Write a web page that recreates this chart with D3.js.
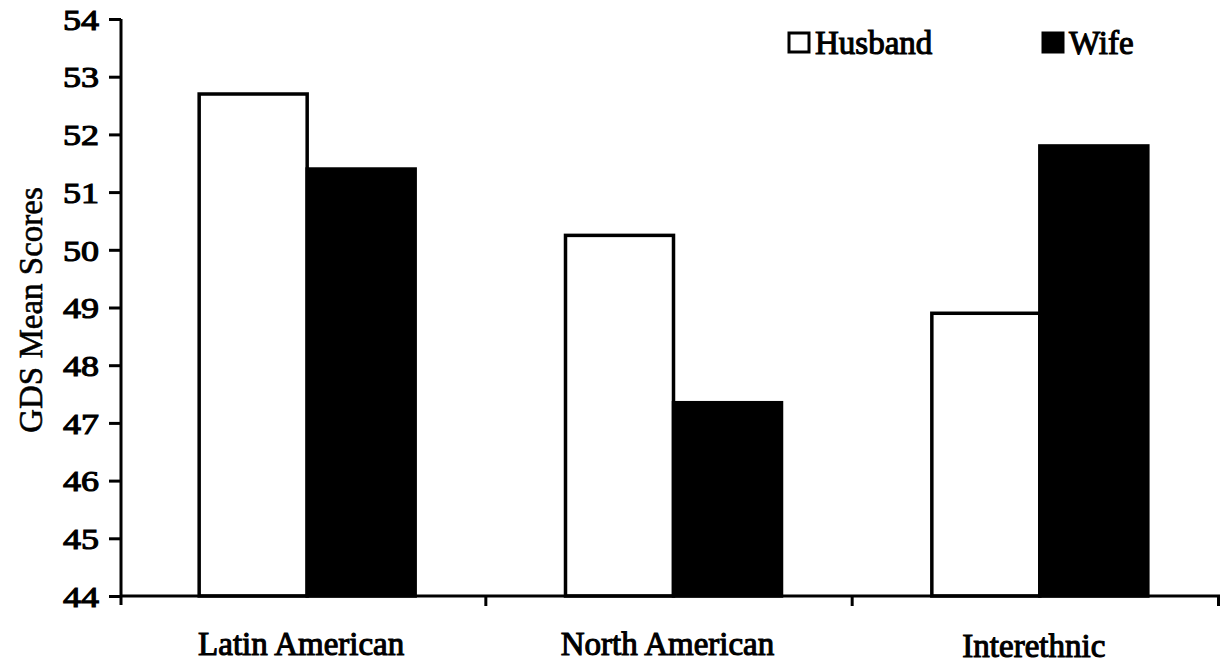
<!DOCTYPE html>
<html><head><meta charset="utf-8">
<script src="https://cdn.jsdelivr.net/npm/d3@7/dist/d3.min.js"></script>
<style>body{margin:0;background:#fff}svg{display:block}</style>
</head><body>
<svg id="c" width="1222" height="667"></svg>
<script>
const categories = ["Latin American", "North American", "Interethnic"];
const seriesNames = ["Husband", "Wife"];
const husband = [52.7, 50.25, 48.9];
const wife = [51.4, 47.35, 51.8];
const yTicks = [44,45,46,47,48,49,50,51,52,53,54];

const svg = d3.select("#c");
const font = "'Liberation Serif','Times New Roman',Times,serif";
// faux-bold: regular serif face with a thin stroke
function bold(sel, w) {
  return sel.attr("font-family", font).attr("font-weight", "normal")
    .attr("fill", "#000").attr("stroke", "#000").attr("stroke-width", w || 1.1)
    .attr("paint-order", "stroke");
}
const x0 = 121, x1 = 1220, yTop = 19, yBot = 596;
const x = d3.scaleBand().domain(categories).range([x0, x1]);
const sub = d3.scaleBand().domain(seriesNames).range([0, 216]);
const y = d3.scaleLinear().domain([44, 54]).range([yBot, yTop]);
const fills = {Husband: "#fff", Wife: "#000"};
const data = categories.map((c, i) => ({c, vals: [{s: "Husband", v: husband[i]}, {s: "Wife", v: wife[i]}]}));

const g = svg.append("g");
g.selectAll("g.grp").data(data).join("g")
  .attr("transform", d => `translate(${x(d.c) + x.bandwidth()/2 + 3 - 108},0)`)
  .selectAll("rect").data(d => d.vals).join("rect")
  .attr("x", d => sub(d.s)).attr("width", sub.bandwidth())
  .attr("y", d => y(d.v)).attr("height", d => yBot - y(d.v))
  .attr("fill", d => fills[d.s]).attr("stroke", "#000").attr("stroke-width", 3.5);

// y axis
const ya = svg.append("g").attr("transform", `translate(${x0},0)`)
  .call(d3.axisLeft(y).tickValues(yTicks).tickFormat(d3.format("d")).tickSize(12).tickPadding(10));
ya.select(".domain").remove();
ya.append("line").attr("x1",0).attr("x2",0).attr("y1",yTop).attr("y2",yBot+9).attr("stroke","#000").attr("stroke-width",3);
ya.selectAll(".tick line").attr("stroke-width",3);
bold(ya.selectAll(".tick text")).attr("font-size",30).attr("dy","0.34em")
  .attr("textLength", 36).attr("lengthAdjust", "spacingAndGlyphs");

// x axis
const xa = svg.append("g").attr("transform", `translate(0,${yBot})`);
xa.append("line").attr("x1",x0).attr("x2",x1).attr("y1",0).attr("y2",0).attr("stroke","#000").attr("stroke-width",3);
const bounds = categories.map(c => x(c)).concat([x1]);
xa.selectAll("line.t").data(bounds.slice(1)).join("line").attr("class","t")
  .attr("x1", d=>d-1.5).attr("x2", d=>d-1.5).attr("y1",0).attr("y2",10).attr("stroke","#000").attr("stroke-width",3);
bold(xa.selectAll("text").data(categories).join("text")
  .attr("x", d => x(d) + x.bandwidth()/2 - 3)
  .attr("y", (d,i) => i === 2 ? 61 : 59)
  .attr("text-anchor","middle").attr("font-size",33)
  .text(d => d));

// y label
bold(svg.append("text").attr("transform","translate(42,310) rotate(-90)")
  .attr("text-anchor","middle").attr("font-size",33).text("GDS Mean Scores"), 0.6);

// legend
const lg = svg.append("g");
const lx = [789, 1043];
seriesNames.forEach((s,i) => {
  lg.append("rect").attr("x",lx[i]).attr("y",33).attr("width",20).attr("height",19)
    .attr("fill",fills[s]).attr("stroke","#000").attr("stroke-width",3);
  bold(lg.append("text").attr("x",lx[i]+26).attr("y",54)
    .attr("font-size",33).text(s));
});
</script>
</body></html>
